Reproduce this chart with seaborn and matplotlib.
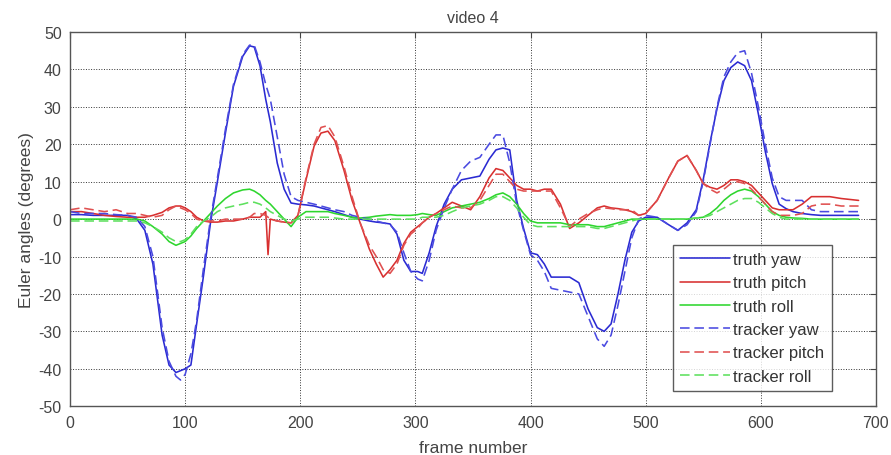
import matplotlib
matplotlib.use("Agg")
import matplotlib.pyplot as plt
import pandas as pd
import seaborn as sns

# frame grid shared by all six series
frames = [0, 10, 20, 30, 40, 50,
          58, 65, 72, 80, 86,
          92, 96, 100, 105, 110,
          116, 122, 128, 135, 142,
          150, 156, 160, 165, 170,
          172, 174, 180, 186, 192,
          198, 205, 212, 218, 224,
          230, 238, 245, 252, 260,
          266, 272, 278, 284, 290,
          296, 302, 306, 312, 318,
          325, 332, 340, 348, 356,
          364, 370, 376, 382, 388,
          394, 400, 406, 412, 418,
          426, 434, 442, 450, 458,
          464, 470, 476, 482, 488,
          494, 500, 510, 520, 528,
          536, 544, 550, 556, 562,
          568, 574, 580, 586, 592,
          598, 604, 610, 616, 622,
          628, 636, 644, 652, 660,
          670, 685]

truth_yaw = [1.2, 1.2, 1, 1, 1, 1,
             0, -3, -12, -31, -39,
             -41, -40.5, -40, -39, -28,
             -15, -1, 10, 23, 35.5,
             43.5, 46.3, 46, 41, 32,
             29, 26, 15, 8, 4.3,
             4, 3.8, 3.5, 3, 2.5,
             2, 1.2, 0.5, 0, -0.5,
             -0.8, -1, -1.3, -4, -11,
             -14, -14, -14.5, -9, -2,
             4, 8, 10.5, 11, 11.5,
             16, 18.5, 19, 18.5, 5,
             -2.5, -9, -9.5, -12, -15.5,
             -15.5, -15.5, -17, -24, -29,
             -30, -28, -20, -11, -3.5,
             -0.5, 0.5, 0.5, -1.5, -3,
             -1, 2.5, 10.5, 20.5, 29.5,
             37, 40.5, 42, 41, 37,
             28, 18, 9.5, 4, 2.8,
             2, 1.5, 1.2, 1, 1,
             1, 1]

truth_pitch = [2, 2, 1.5, 1, 0.7, 0.5,
               0.5, 0.5, 1, 1.8, 3,
               3.5, 3.5, 3, 2, 0.5,
               -0.5, -0.8, -0.8, -0.5, -0.5,
               0, 0.5, 0.5, 0.5, 2,
               -9.5, 0, -0.5, -0.8, -1,
               1, 10.5, 19.5, 23, 23.5,
               21, 13, 5, -1, -8,
               -12, -15.5, -13.5, -11, -6.5,
               -3.5, -2, -1, 0.5, 1.5,
               3, 4.5, 3.5, 2.5, 6,
               11, 13.5, 13, 11, 9,
               8, 8, 7.5, 8, 8,
               4, -2.5, -1, 1, 3,
               3.5, 3, 2.8, 2.5, 2,
               1, 1.5, 5, 11, 15.5,
               17, 13, 9.5, 8.5, 8,
               9, 10.5, 10.5, 10, 9,
               7, 5, 3, 2.5, 2.5,
               2.5, 4, 6, 6, 6,
               5.5, 5]

truth_roll = [0, 0, 0, 0, 0, 0,
              0, -0.5, -2, -4, -6,
              -7, -6.5, -6, -4.5, -2.5,
              -0.5, 1.5, 3.5, 5.5, 7,
              7.8, 8, 7.5, 6.5, 5,
              4.5, 4, 2, 0, -2,
              0.5, 2, 2, 2, 2,
              1.5, 1, 0.5, 0.3, 0.5,
              0.8, 1, 1.2, 1, 1,
              1, 1.2, 1.5, 1.2, 1,
              2, 3, 3.5, 4, 4.5,
              5.5, 6.5, 7, 6, 4,
              1.5, -0.5, -1, -1, -1,
              -1, -1.5, -1.5, -1.5, -2,
              -2, -1.5, -1, -0.5, 0,
              0, 0, 0, 0, 0,
              0, 0.3, 0.5, 1.5, 3,
              5, 6.5, 7.5, 8, 7.5,
              6, 4, 2, 1, 0.5,
              0.3, 0.2, 0, 0, 0,
              0, 0]

tracker_yaw = [2, 1.5, 1.5, 1.5, 1.2, 1,
               0.5, -2, -10, -29, -38,
               -42, -43, -41.5, -36, -27,
               -13, 0, 11, 24, 36,
               44, 46.5, 46.5, 42, 36,
               34, 32, 22, 12, 6,
               5, 4.5, 4, 3.5, 3,
               2.5, 2, 1, 0.5, 0,
               -0.5, -1, -1.5, -3.5, -9,
               -14, -16, -16.5, -11, -3,
               3, 8, 13, 15.5, 16.5,
               20, 22.5, 22.5, 15, 4,
               -3, -9.5, -11, -14, -18.5,
               -19, -19.5, -20, -26, -32,
               -34, -31, -23, -14, -5,
               0, 1, 0.5, -1.5, -3,
               -1.5, 2, 10, 20, 30,
               38, 42, 44.5, 45, 39,
               30, 20, 11, 6, 5,
               5, 5, 2.5, 2, 2,
               2, 2]

tracker_pitch = [2.5, 3, 2.5, 2, 2.5, 1.5,
                 1.5, 1, 0.5, 1, 2.5,
                 3.5, 3, 2.5, 1.5, 0,
                 -0.5, -0.5, -0.5, 0, 0,
                 0, 0.5, 1.5, 1.5, 1,
                 0.5, 0, -0.5, -0.8, -1,
                 1, 11, 20, 24.5, 25,
                 22, 14, 6, -1, -7,
                 -10, -13.5, -14.5, -12, -7,
                 -4, -2.5, -1, 0.5, 1.5,
                 2.5, 3.5, 3, 3, 5,
                 9, 12, 12, 10, 8,
                 7.5, 7.5, 7.5, 7.5, 7.5,
                 3, -2, 0, 1.5, 2.5,
                 3, 2.8, 2.5, 2.5, 2.5,
                 1, 1.5, 5, 11, 15.5,
                 17, 13, 9.5, 8, 7,
                 8, 9.5, 10, 9.5, 8,
                 6, 4, 2, 1, 1,
                 1, 1.5, 3.5, 4, 4,
                 3.5, 3.5]

tracker_roll = [-0.5, -0.5, -0.5, -0.5, -0.5, -0.5,
                -0.5, -1, -2, -3.5, -5,
                -6, -6, -5.5, -4, -2,
                -0.5, 0.5, 2, 3, 3.5,
                4, 4.5, 4.5, 4, 3,
                2.5, 2, 1, 0, -0.5,
                0, 0.5, 0.5, 0.5, 0.5,
                0.3, 0, 0, 0, 0,
                0, 0, 0, 0, 0,
                0, 0, 0.5, 0.5, 0.5,
                1, 2, 3, 3.5, 4,
                5, 6, 6, 5, 3,
                0.5, -1.5, -2, -2, -2,
                -2, -2, -2, -2, -2.5,
                -2.5, -2, -1.5, -1, -0.5,
                0, 0, 0, 0, 0,
                0, 0.3, 0.5, 1, 2,
                3, 4, 5, 5.5, 5.5,
                4.5, 3, 1.5, 0.5, 0,
                0, 0, 0, 0, 0,
                0, 0]

series = [
    ("truth yaw", truth_yaw, "#2a2ad2", False),
    ("truth pitch", truth_pitch, "#d83030", False),
    ("truth roll", truth_roll, "#2ed62e", False),
    ("tracker yaw", tracker_yaw, "#4a4ae0", True),
    ("tracker pitch", tracker_pitch, "#e05050", True),
    ("tracker roll", tracker_roll, "#5ee05e", True),
]


def main() -> None:
    sns.set_style("white")
    plt.rcParams["font.family"] = ["Liberation Sans", "DejaVu Sans"]
    plt.rcParams["axes.unicode_minus"] = False

    text_color = "#444444"
    fig = plt.figure(figsize=(8.91, 4.56), dpi=100)
    ax = fig.add_axes([0.0786, 0.107, 0.9044, 0.8206])

    for label, values, color, dashed in series:
        df = pd.DataFrame({"frame": frames, "angle": values})
        sns.lineplot(data=df, x="frame", y="angle", ax=ax, color=color,
                     linewidth=1.15, label=label)
        if dashed:
            ax.lines[-1].set_dashes((6, 3))

    ax.set_xlim(0, 700)
    ax.set_ylim(-50, 50)
    ax.set_xticks(range(0, 701, 100))
    ax.set_yticks(range(-50, 51, 10))
    ax.grid(True, color="black", linestyle=":", linewidth=0.7, alpha=0.8)
    ax.tick_params(direction="in", length=4, top=True, right=True,
                   labelsize=11.5, colors=text_color, pad=6)
    for spine in ax.spines.values():
        spine.set_color("#555555")
        spine.set_linewidth(1.0)

    ax.set_title("video 4", fontsize=11.5, color=text_color, pad=7)
    ax.set_ylabel("Euler angles (degrees)", fontsize=12.5, color=text_color, labelpad=3)
    ax.set_xlabel("frame number", fontsize=12.5, color=text_color, labelpad=7.5)

    ax.legend(loc="lower right", bbox_to_anchor=(0.945, 0.04), borderaxespad=0,
              fontsize=12, frameon=True, fancybox=False, edgecolor="#333333",
              handlelength=3.0, labelspacing=0.5, handletextpad=0.15,
              borderpad=0.45)
    leg = ax.get_legend()
    leg.get_frame().set_linewidth(1.0)
    for txt in leg.get_texts():
        txt.set_color("#333333")

    fig.savefig("out.png", dpi=100)
    plt.close(fig)


if __name__ == "__main__":
    main()
